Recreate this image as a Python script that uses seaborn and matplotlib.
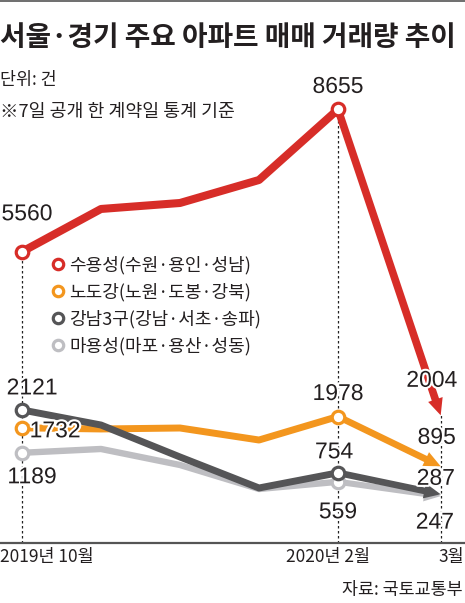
import numpy as np
import pandas as pd
import seaborn as sns
import matplotlib
matplotlib.use("Agg")
import matplotlib.pyplot as plt
import matplotlib.patheffects as pe
from matplotlib import font_manager as fm
from matplotlib.lines import Line2D
from matplotlib.transforms import blended_transform_factory

# ---------------- data ----------------
months = ["2019-10", "2019-11", "2019-12", "2020-01", "2020-02", "2020-03"]
suyongseong = [5560, 6490, 6620, 7120, 8655, 2004]   # 수용성
nodogang = [1732, 1707, 1728, 1467, 1978, 895]        # 노도강
gangnam3 = [2121, 1793, 1098, 424, 754, 287]          # 강남3구
mayongseong = [1189, 1272, 924, 402, 559, 247]        # 마용성
series_names = ["수용성(수원·용인·성남)", "노도강(노원·도봉·강북)",
                "강남3구(강남·서초·송파)", "마용성(마포·용산·성동)"]
tick_labels = ["2019년 10월", "2020년 2월", "3월"]
title = "서울·경기 주요 아파트 매매 거래량 추이"
unit_text = "단위: 건"
note_text = "※7일 공개 한 계약일 통계 기준"
source_text = "자료: 국토교통부"

# ---------------- style ----------------
sns.set_theme(style="white")
KR = ["Noto Sans CJK KR", "DejaVu Sans"]
plt.rcParams["font.family"] = KR


def has_font(name):
    try:
        fm.findfont(fm.FontProperties(family=name), fallback_to_default=False)
        return True
    except Exception:
        return False


if has_font("Liberation Sans Narrow"):
    NUM_FONT, NUM_SIZE = "Liberation Sans Narrow", 19
else:
    NUM_FONT, NUM_SIZE = "Liberation Sans", 16.5

TXT = "#231f20"
colors = ["#d72d28", "#f3961e", "#555557", "#bebec2"]
lws = [5.8, 5.0, 5.0, 4.6]

x_pos = [0, 1, 2, 3, 4, 5.3]
values = [suyongseong, nodogang, gangnam3, mayongseong]

rows = []
for name, vals in zip(series_names, values):
    for i in range(5):
        rows.append({"x": x_pos[i], "v": vals[i], "s": name})
df = pd.DataFrame(rows)

W, H = 465, 603
fig = plt.figure(figsize=(W / 100, H / 100), dpi=100)
ax_bottom = (H - 543) / H
ax = fig.add_axes([0, ax_bottom, 1, 1 - ax_bottom])
ax.set_xlim(-22 / 79, (465 - 22) / 79)
ax.set_ylim(-772, 11033)
ax.set_facecolor("white")
for s in ["top", "left", "right"]:
    ax.spines[s].set_visible(False)
ax.spines["bottom"].set_color("#555555")
ax.spines["bottom"].set_linewidth(1.6)
ax.set_yticks([])
ax.set_xticks([])

ybot = ax.get_ylim()[0]
# dotted guide lines
dot_kw = dict(colors="#222222", linestyles=(0, (2, 2)), linewidth=0.9, zorder=1)
ax.vlines(x_pos[0], ybot, suyongseong[0], **dot_kw)
ax.vlines(x_pos[4], ybot, suyongseong[4], **dot_kw)
ax.vlines(x_pos[5], ybot, suyongseong[5], **dot_kw)

# draw order: light gray, orange, dark gray, red
order = [3, 1, 2, 0]
for k, idx in enumerate(order):
    name = series_names[idx]
    sns.lineplot(data=df[df["s"] == name], x="x", y="v", color=colors[idx],
                 linewidth=lws[idx], sort=False, estimator=None, legend=False,
                 ax=ax, zorder=3 + k)
    vals = values[idx]
    ax.annotate("", xy=(x_pos[5], vals[5]), xytext=(x_pos[4], vals[4]),
                arrowprops=dict(arrowstyle="simple,head_length=1.2,head_width=1.1,tail_width=%.2f" % (lws[idx] / 10.5),
                                color=colors[idx], lw=0, shrinkA=0, shrinkB=0,
                                mutation_scale=10),
                zorder=3 + k)
    ax.plot([x_pos[0], x_pos[4]], [vals[0], vals[4]], ls="none", marker="o",
            ms=9, mew=2.3, mfc="white", mec=colors[idx], zorder=10 + k)

ax.set_xlabel("")
ax.set_ylabel("")

stroke = [pe.withStroke(linewidth=3, foreground="white")]


def lab(xi, val, text, dx, dy):
    ax.annotate(text, xy=(xi, val), xytext=(dx, dy), textcoords="offset pixels",
                ha="center", va="center", fontsize=NUM_SIZE, family=NUM_FONT,
                color=TXT, zorder=20, path_effects=stroke)


lab(x_pos[0], suyongseong[0], f"{suyongseong[0]}", 5, 38)
lab(x_pos[4], suyongseong[4], f"{suyongseong[4]}", 0, 23)
lab(x_pos[5], suyongseong[5], f"{suyongseong[5]}", -9, 35)
lab(x_pos[0], gangnam3[0], f"{gangnam3[0]}", 10, 22)
lab(x_pos[0], nodogang[0], f"{nodogang[0]}", 33, -3)
lab(x_pos[0], mayongseong[0], f"{mayongseong[0]}", 10, -24)
lab(x_pos[4], nodogang[4], f"{nodogang[4]}", 0, 23)
lab(x_pos[4], gangnam3[4], f"{gangnam3[4]}", -4, 21)
lab(x_pos[4], mayongseong[4], f"{mayongseong[4]}", 0, -30)
lab(x_pos[5], nodogang[5], f"{nodogang[5]}", -4, 29)
lab(x_pos[5], gangnam3[5], f"{gangnam3[5]}", -5, 16)
lab(x_pos[5], mayongseong[5], f"{mayongseong[5]}", -6, -26)

# x tick labels
bt = blended_transform_factory(ax.transData, ax.transAxes)
tick_x = [x_pos[0], x_pos[4], x_pos[5]]
tick_ha = ["left", "center", "right"]
tick_dx = [-22, -10, 23]
for tx, tl, ha, dx in zip(tick_x, tick_labels, tick_ha, tick_dx):
    ax.annotate(tl, xy=(tx, 0), xycoords=bt, xytext=(dx, -14),
                textcoords="offset pixels", ha=ha, va="center",
                fontsize=12.5, color=TXT, family=KR)

# legend
handles = [Line2D([], [], ls="none", marker="o", ms=7.5, mew=2.3, mfc="white",
                  mec=c) for c in colors]
leg = fig.legend(handles, series_names, loc="upper left",
                 bbox_to_anchor=(52 / W, 1 - 256 / H), frameon=False,
                 handlelength=0.7, handletextpad=0.25,
                 labelspacing=0.47, borderpad=0, borderaxespad=0,
                 prop={"family": KR, "size": 13})
for t in leg.get_texts():
    t.set_color(TXT)

# titles / notes
fig.text(0, 1 - 38 / H, title, ha="left", va="center", fontsize=20.0,
         fontweight="bold", color=TXT, family=KR)
fig.text(0, 1 - 80 / H, unit_text, ha="left", va="center", fontsize=12.5,
         color=TXT, family=KR)
fig.text(0, 1 - 112 / H, note_text, ha="left", va="center", fontsize=13.2,
         color=TXT, family=KR)
fig.text(463 / W, 1 - 590 / H, source_text, ha="right", va="center",
         fontsize=12.5, color=TXT, family=KR)
fig.add_artist(Line2D([0, 1], [1 - 0.8 / H, 1 - 0.8 / H], color="#555555",
                      lw=1.2, transform=fig.transFigure))

fig.savefig("out.png", dpi=100, facecolor="white")
